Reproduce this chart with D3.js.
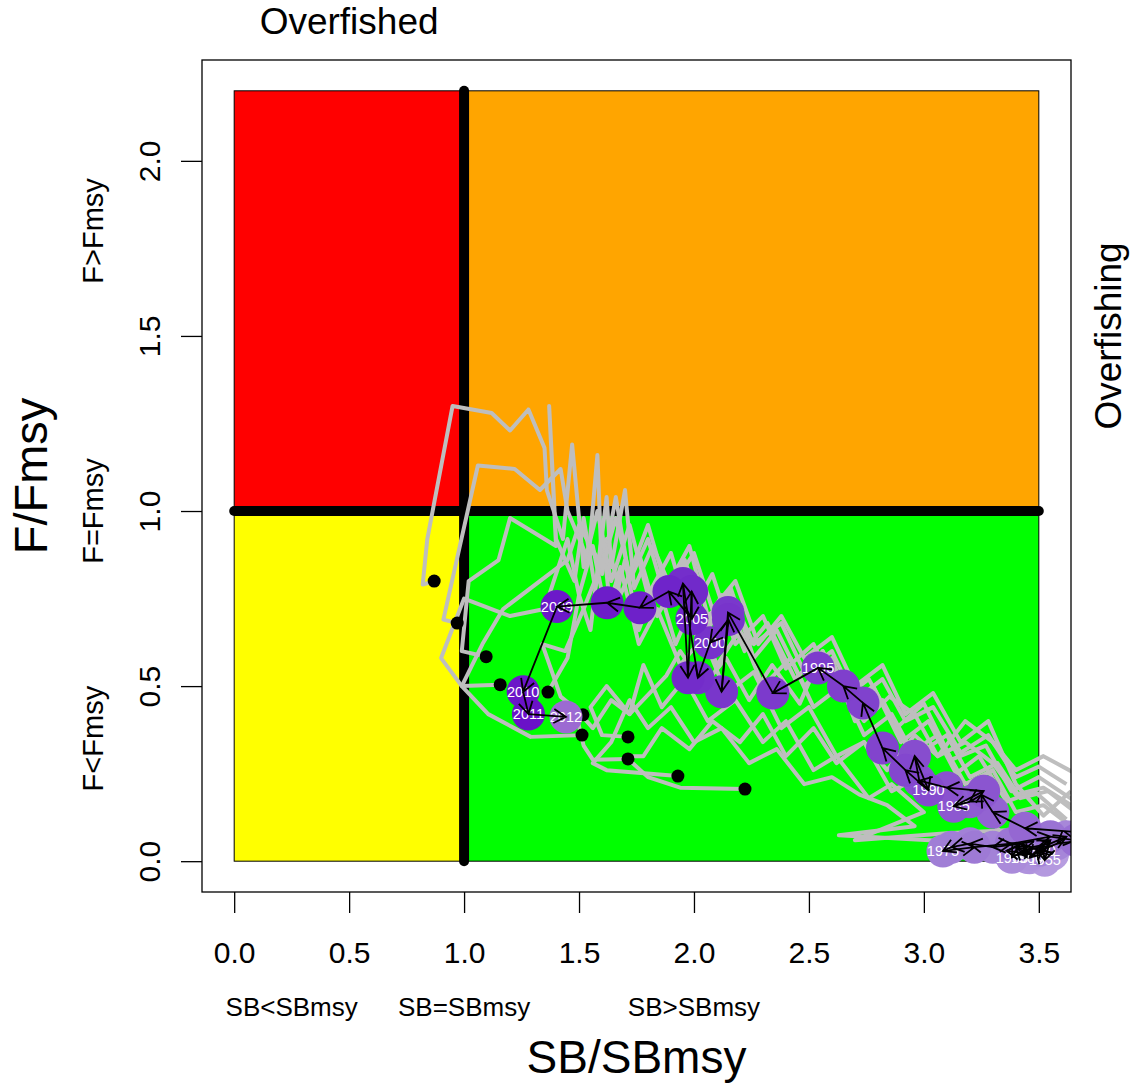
<!DOCTYPE html>
<html><head><meta charset="utf-8">
<script src="https://cdn.jsdelivr.net/npm/d3@7"></script>
<style>body{margin:0;background:#fff}svg{display:block}text{font-family:"Liberation Sans",Arial,sans-serif}</style>
</head><body><svg id="c" width="1138" height="1088"></svg>
<script>
// ---- data ----
const xTicks = [0, 0.5, 1, 1.5, 2, 2.5, 3, 3.5];
const yTicks = [0, 0.5, 1, 1.5, 2];
const xZoneLabels = [["SB<SBmsy", 0.25], ["SB=SBmsy", 1.0], ["SB>SBmsy", 2.0]];
const yZoneLabels = [["F<Fmsy", 0.35], ["F=Fmsy", 1.0], ["F>Fmsy", 1.8]];
const zones = [
  {x0: 0, x1: 1, y0: 1, y1: 2.2, fill: "#ff0000"},
  {x0: 1, x1: 3.5, y0: 1, y1: 2.2, fill: "#ffa500"},
  {x0: 0, x1: 1, y0: 0, y1: 1, fill: "#ffff00"},
  {x0: 1, x1: 3.5, y0: 0, y1: 1, fill: "#00ff00"}
];
// grey trajectories (SB/SBmsy, F/Fmsy), each ending at a terminal point
const grey1 = [[3.66,0.17],[3.50,0.24],[3.38,0.20],[3.27,0.33],[3.12,0.29],[3.00,0.45],[2.88,0.38],[2.76,0.52],[2.64,0.46],[2.52,0.62],[2.40,0.55],[2.30,0.70],[2.18,0.62],[2.08,0.82],[1.98,0.70],[1.90,0.88],[1.80,0.76],[1.72,0.96],[1.64,0.80],[1.58,1.00],[1.52,0.84],[1.47,1.19],[1.43,0.92],[1.36,1.06],[1.35,1.18],[1.28,1.29],[1.20,1.23],[1.12,1.28],[0.95,1.30],[0.84,0.92],[0.82,0.79],[0.87,0.80]];
const grey2 = [[3.64,0.10],[3.52,0.16],[3.40,0.14],[3.30,0.26],[3.18,0.22],[3.06,0.36],[2.94,0.31],[2.82,0.46],[2.70,0.40],[2.60,0.58],[2.48,0.50],[2.36,0.66],[2.26,0.58],[2.16,0.78],[2.06,0.66],[1.96,0.86],[1.88,0.74],[1.80,0.92],[1.72,0.80],[1.66,1.04],[1.60,0.82],[1.58,1.16],[1.54,0.86],[1.45,1.00],[1.42,1.12],[1.33,1.06],[1.22,1.12],[1.06,1.13],[0.91,0.69],[0.97,0.68]];
const grey3 = [[3.62,0.12],[3.48,0.20],[3.36,0.17],[3.24,0.30],[3.14,0.25],[3.02,0.40],[2.90,0.34],[2.78,0.50],[2.68,0.44],[2.56,0.60],[2.44,0.52],[2.32,0.68],[2.22,0.60],[2.12,0.76],[2.02,0.62],[1.94,0.82],[1.84,0.70],[1.76,0.88],[1.68,0.76],[1.62,0.92],[1.57,0.78],[1.52,0.98],[1.48,0.80],[1.40,0.92],[1.37,1.30],[1.40,0.90],[1.20,0.98],[1.15,0.86],[1.02,0.80],[0.99,0.60],[1.096,0.584]];
const grey4 = [[3.60,0.06],[3.46,0.10],[3.34,0.08],[3.22,0.16],[3.10,0.14],[2.98,0.24],[2.86,0.20],[2.74,0.34],[2.62,0.30],[2.50,0.44],[2.38,0.38],[2.26,0.54],[2.14,0.48],[2.04,0.64],[1.94,0.56],[1.84,0.72],[1.76,0.62],[1.68,0.84],[1.62,0.70],[1.56,0.90],[1.50,0.76],[1.45,0.92],[1.35,0.72],[1.20,0.70],[1.00,0.75],[0.90,0.58],[0.99,0.50],[1.157,0.504]];
const grey5 = [[3.66,0.14],[3.54,0.20],[3.42,0.18],[3.32,0.28],[3.20,0.24],[3.10,0.36],[2.96,0.30],[2.86,0.42],[2.74,0.36],[2.64,0.50],[2.52,0.44],[2.42,0.58],[2.30,0.50],[2.20,0.66],[2.10,0.56],[2.00,0.74],[1.92,0.62],[1.84,0.80],[1.76,0.66],[1.70,0.86],[1.64,0.70],[1.60,0.94],[1.55,0.66],[1.50,0.76],[1.45,0.58],[1.365,0.483]];
const grey6 = [[3.62,0.22],[3.50,0.27],[3.40,0.24],[3.28,0.36],[3.16,0.31],[3.04,0.44],[2.92,0.40],[2.82,0.52],[2.70,0.46],[2.60,0.60],[2.48,0.54],[2.38,0.68],[2.26,0.62],[2.16,0.76],[2.06,0.70],[1.98,0.90],[1.88,0.78],[1.80,0.96],[1.72,0.82],[1.66,0.98],[1.60,0.84],[1.50,0.96],[1.45,0.86],[1.17,0.72],[1.08,0.62],[0.99,0.50],[1.105,0.42],[1.29,0.355],[1.513,0.36]];
const grey7 = [[3.66,0.07],[3.40,0.09],[3.10,0.08],[2.70,0.06],[3.00,0.14],[2.86,0.22],[2.76,0.18],[2.62,0.30],[2.52,0.26],[2.40,0.40],[2.30,0.34],[2.18,0.46],[2.06,0.40],[1.96,0.52],[1.86,0.44],[1.78,0.56],[1.72,0.42],[1.62,0.50],[1.55,0.44],[1.60,0.36],[1.713,0.355]];
const grey8 = [[3.64,0.16],[3.52,0.21],[3.40,0.19],[3.30,0.28],[3.18,0.34],[3.06,0.30],[2.96,0.42],[2.85,0.47],[2.74,0.40],[2.62,0.52],[2.56,0.60],[2.46,0.45],[2.34,0.56],[2.24,0.46],[2.14,0.58],[2.04,0.50],[1.94,0.60],[1.88,0.53],[1.72,0.42],[1.64,0.46],[1.56,0.38],[1.48,0.44],[1.52,0.33],[1.56,0.29],[1.713,0.292]];
const grey9 = [[3.62,0.03],[3.30,0.05],[2.63,0.074],[2.96,0.10],[2.84,0.16],[2.72,0.19],[2.60,0.24],[2.48,0.22],[2.36,0.32],[2.24,0.28],[2.12,0.38],[2.00,0.34],[1.90,0.44],[1.80,0.38],[1.72,0.46],[1.64,0.34],[1.56,0.28],[1.62,0.26],[1.81,0.25],[1.93,0.243]];
const grey10 = [[3.66,0.25],[3.52,0.30],[3.40,0.26],[3.30,0.34],[3.18,0.40],[3.06,0.30],[2.96,0.36],[2.84,0.26],[2.74,0.34],[2.62,0.28],[2.52,0.38],[2.40,0.30],[2.30,0.42],[2.20,0.34],[2.08,0.40],[1.98,0.32],[1.86,0.38],[1.78,0.30],[1.70,0.30],[1.80,0.24],[1.94,0.21],[2.222,0.206]];
const grey11 = [[3.64,0.20],[3.52,0.13],[3.40,0.22],[3.28,0.40],[3.16,0.34],[3.04,0.48],[2.92,0.42],[2.82,0.56],[2.70,0.50],[2.60,0.64],[2.48,0.58],[2.38,0.70],[2.28,0.62],[2.18,0.80],[2.08,0.72],[2.00,0.88],[1.90,0.78],[1.82,0.90],[1.74,0.78],[1.70,1.06],[1.64,0.84],[1.62,1.04],[1.58,0.82],[1.52,0.72],[1.44,0.60],[1.34,0.62],[1.42,0.47],[1.517,0.418]];
const greyTracks = [grey1, grey2, grey3, grey4, grey5, grey6, grey7, grey8, grey9, grey10, grey11];

// main assessment trajectory
const years = d3.range(1952, 2013);
const sbRatio = [3.56,3.50,3.55,3.526,3.49,3.46,3.52,3.43,3.448,3.40,3.46,3.36,3.42,3.383,3.47,3.55,3.62,3.58,3.504,3.42,3.30,3.20,3.12,3.083,3.22,3.38,3.55,3.66,3.74,3.44,3.30,3.25,3.20,3.13,3.26,3.10,2.98,2.96,3.02,2.92,2.82,2.735,2.65,2.54,2.343,2.148,2.12,2.15,2.07,2.017,1.952,1.974,1.99,1.991,1.891,1.765,1.622,1.404,1.257,1.28,1.443];
const fRatio = [0.02,0.04,0.06,0.003,0.03,0.01,0.04,0.03,0.011,0.04,0.02,0.03,0.05,0.011,0.04,0.05,0.07,0.05,0.031,0.05,0.04,0.05,0.04,0.029,0.04,0.05,0.07,0.06,0.08,0.094,0.14,0.19,0.17,0.157,0.20,0.21,0.23,0.30,0.203,0.26,0.323,0.452,0.50,0.552,0.48,0.71,0.484,0.69,0.624,0.524,0.793,0.524,0.77,0.692,0.77,0.724,0.738,0.727,0.484,0.42,0.412];
const labelledYears = [1955,1960,1965,1970,1975,1980,1985,1990,1995,2000,2005,2009,2010,2011,2012];

// ---- drawing ----
const svg = d3.select("#c");
const box = {l: 202, r: 1071, t: 60, b: 892};
const x = d3.scaleLinear().domain([-0.14, 3.64]).range([box.l, box.r]);
const y = d3.scaleLinear().domain([-0.088, 2.288]).range([box.b, box.t]);
const FONT = '"Liberation Sans",Arial,sans-serif';

svg.append("defs").append("clipPath").attr("id","clip").append("rect")
  .attr("x", box.l).attr("y", box.t).attr("width", box.r-box.l).attr("height", box.b-box.t);

// zones
svg.append("g").selectAll("rect").data(zones).join("rect")
  .attr("x", d => x(d.x0)).attr("y", d => y(d.y1))
  .attr("width", d => x(d.x1)-x(d.x0)).attr("height", d => y(d.y0)-y(d.y1))
  .attr("fill", d => d.fill).attr("stroke", "#000").attr("stroke-width", 1);

// reference lines
svg.append("line").attr("x1", x(1)).attr("x2", x(1)).attr("y1", y(0)).attr("y2", y(2.2))
  .attr("stroke","#000").attr("stroke-width",10).attr("stroke-linecap","round");
svg.append("line").attr("x1", x(0)).attr("x2", x(3.5)).attr("y1", y(1)).attr("y2", y(1))
  .attr("stroke","#000").attr("stroke-width",10).attr("stroke-linecap","round");

const plot = svg.append("g").attr("clip-path","url(#clip)");
const line = d3.line().x(d => x(d[0])).y(d => y(d[1]));
plot.append("g").selectAll("path").data(greyTracks).join("path")
  .attr("d", line).attr("fill","none").attr("stroke","#bebebe").attr("stroke-width",4)
  .attr("stroke-linejoin","round");
plot.append("g").selectAll("circle").data(greyTracks).join("circle")
  .attr("cx", d => x(d[d.length-1][0])).attr("cy", d => y(d[d.length-1][1]))
  .attr("r", 6.5).attr("fill","#000");

const pts = years.map((yr,i) => ({yr, sb: sbRatio[i], f: fRatio[i]}));
const col = d3.scaleLinear().domain([1952, 1975, 1985, 1995, 2005, 2011, 2012])
  .range(["#b79de0","#a07ed6","#8d58d0","#7d3ccc","#7028ca","#6a12c8","#9c6ad2"]);
plot.append("g").selectAll("circle").data(pts).join("circle")
  .attr("cx", d => x(d.sb)).attr("cy", d => y(d.f)).attr("r", 16.5).attr("fill", d => col(d.yr));
plot.append("g").selectAll("text").data(pts.filter(d => labelledYears.includes(d.yr))).join("text")
  .attr("x", d => x(d.sb)).attr("y", d => y(d.f)).attr("dy","0.36em")
  .attr("text-anchor","middle").attr("fill","#fff").attr("font-size",14.5).text(d => d.yr);

// arrows between consecutive years
const ag = plot.append("g").attr("stroke","#000").attr("stroke-width",1.8).attr("fill","none");
for (let i = 0; i < pts.length-1; i++) {
  const x0 = x(pts[i].sb), y0 = y(pts[i].f), x1 = x(pts[i+1].sb), y1 = y(pts[i+1].f);
  const a = Math.atan2(y1-y0, x1-x0), L = 14, sp = Math.PI/6;
  ag.append("path").attr("d",
    `M${x0},${y0}L${x1},${y1}M${x1-L*Math.cos(a-sp)},${y1-L*Math.sin(a-sp)}L${x1},${y1}L${x1-L*Math.cos(a+sp)},${y1-L*Math.sin(a+sp)}`);
}

// frame
svg.append("rect").attr("x", box.l).attr("y", box.t).attr("width", box.r-box.l).attr("height", box.b-box.t)
  .attr("fill","none").attr("stroke","#000").attr("stroke-width",1.3);

// axes
const ax = svg.append("g").attr("transform",`translate(0,${box.b})`)
  .call(d3.axisBottom(x).tickValues(xTicks).tickSize(21).tickSizeOuter(0).tickFormat(d3.format(".1f")));
ax.select(".domain").remove();
ax.selectAll("line").attr("stroke","#000").attr("stroke-width",1.3);
ax.selectAll("text").attr("y", 71).attr("dy", 0).attr("font-size", 30).attr("font-family", FONT).attr("fill","#000");

const ay = svg.append("g").attr("transform",`translate(${box.l},0)`)
  .call(d3.axisLeft(y).tickValues(yTicks).tickSize(21).tickSizeOuter(0).tickFormat(d3.format(".1f")));
ay.select(".domain").remove();
ay.selectAll("line").attr("stroke","#000").attr("stroke-width",1.3);
ay.selectAll("text").attr("x", null).attr("dy", 0).attr("text-anchor","middle")
  .attr("transform","translate(-42,0) rotate(-90)").attr("font-size", 30).attr("font-family", FONT).attr("fill","#000");

// zone labels
svg.append("g").selectAll("text").data(xZoneLabels).join("text")
  .attr("x", d => x(d[1])).attr("y", 1016).attr("text-anchor","middle").attr("font-size",26).text(d => d[0]);
svg.append("g").selectAll("text").data(yZoneLabels).join("text")
  .attr("transform", d => `translate(103,${y(d[1])}) rotate(-90)`).attr("text-anchor","middle")
  .attr("font-size",29).text(d => d[0]);

// titles
svg.append("text").attr("x", (box.l+box.r)/2).attr("y", 1073).attr("text-anchor","middle")
  .attr("font-size",46).text("SB/SBmsy");
svg.append("text").attr("transform",`translate(47,${(box.t+box.b)/2}) rotate(-90)`).attr("text-anchor","middle")
  .attr("font-size",47).text("F/Fmsy");
svg.append("text").attr("x", x(0.5)).attr("y", 34).attr("text-anchor","middle")
  .attr("font-size",37).text("Overfished");
svg.append("text").attr("transform",`translate(1121,${y(1.5)}) rotate(-90)`).attr("text-anchor","middle")
  .attr("font-size",37).text("Overfishing");
</script></body></html>
